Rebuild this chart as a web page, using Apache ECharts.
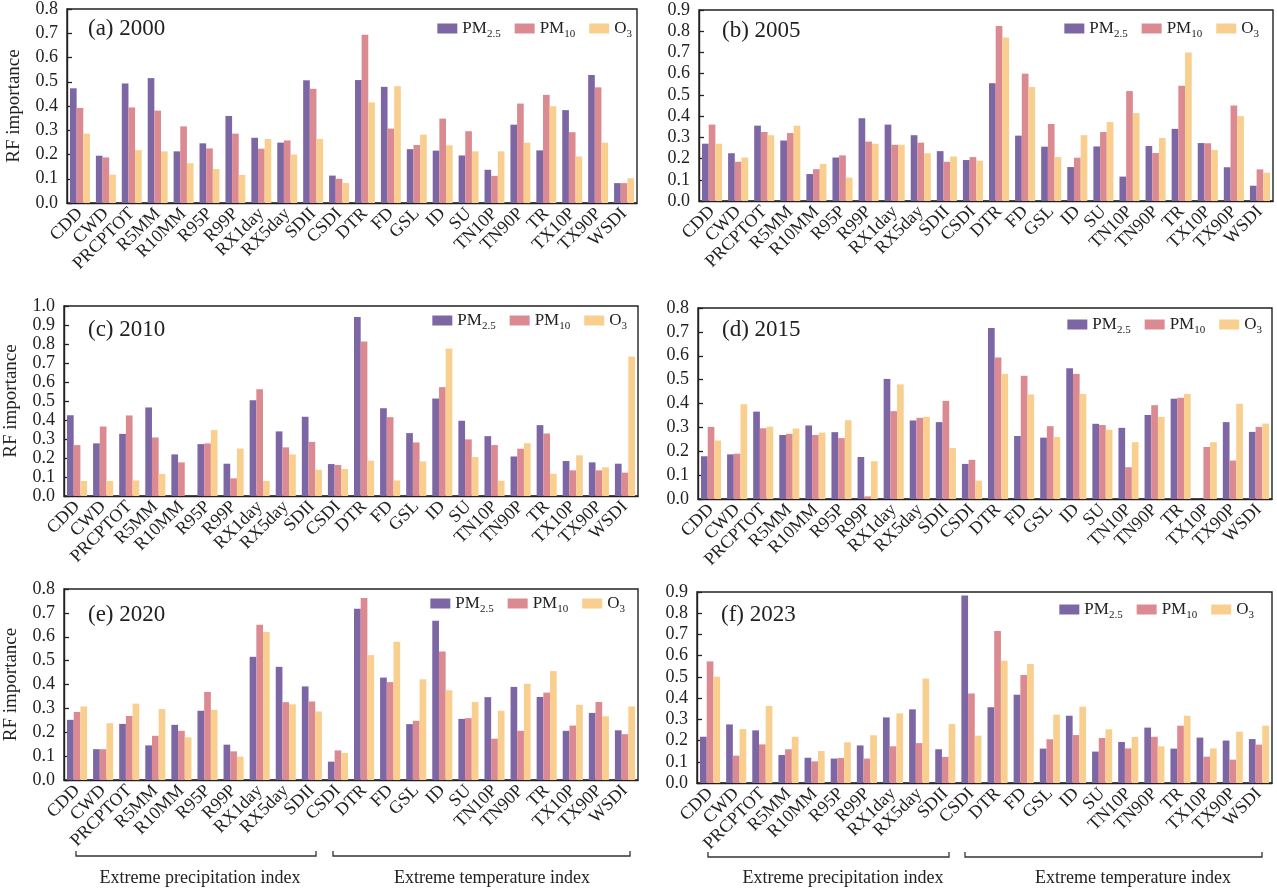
<!DOCTYPE html>
<html><head><meta charset="utf-8">
<script src="https://cdn.jsdelivr.net/npm/echarts@6/dist/echarts.min.js"></script>
<style>html,body{margin:0;padding:0;background:#fff}#c{width:1277px;height:890px}</style>
</head><body><div id="c"></div>
<script>
const categories = ['CDD','CWD','PRCPTOT','R5MM','R10MM','R95P','R99P','RX1day','RX5day','SDII','CSDI','DTR','FD','GSL','ID','SU','TN10P','TN90P','TR','TX10P','TX90P','WSDI'];
const seriesNames = ['PM2.5','PM10','O3'];
const yTickMax = [0.8, 0.9, 1.0, 0.8, 0.8, 0.9];
const panelTitles = ['(a) 2000','(b) 2005','(c) 2010','(d) 2015','(e) 2020','(f) 2023'];

const pm25_2000 = [0.473,0.195,0.493,0.515,0.213,0.246,0.359,0.269,0.249,0.506,0.113,0.507,0.479,0.222,0.216,0.196,0.137,0.323,0.217,0.383,0.528,0.082];
const pm10_2000 = [0.392,0.188,0.394,0.381,0.316,0.225,0.286,0.224,0.258,0.471,0.100,0.694,0.307,0.239,0.348,0.296,0.112,0.410,0.446,0.292,0.477,0.082];
const o3_2000   = [0.286,0.117,0.218,0.213,0.164,0.140,0.116,0.264,0.200,0.264,0.083,0.415,0.482,0.282,0.238,0.213,0.213,0.249,0.399,0.192,0.249,0.102];

const pm25_2005 = [0.270,0.225,0.355,0.285,0.127,0.205,0.390,0.360,0.310,0.235,0.193,0.555,0.308,0.256,0.160,0.257,0.115,0.259,0.340,0.273,0.159,0.072];
const pm10_2005 = [0.360,0.185,0.325,0.320,0.150,0.215,0.280,0.265,0.275,0.185,0.207,0.825,0.600,0.363,0.204,0.325,0.518,0.226,0.543,0.272,0.450,0.149];
const o3_2005   = [0.270,0.205,0.310,0.355,0.175,0.110,0.270,0.265,0.225,0.210,0.190,0.770,0.537,0.207,0.310,0.372,0.414,0.297,0.700,0.240,0.400,0.133];

const pm25_2010 = [0.425,0.277,0.327,0.466,0.219,0.273,0.170,0.504,0.340,0.417,0.168,0.942,0.462,0.331,0.513,0.396,0.315,0.208,0.373,0.184,0.177,0.170];
const pm10_2010 = [0.268,0.366,0.424,0.308,0.177,0.277,0.093,0.562,0.256,0.285,0.163,0.813,0.415,0.282,0.573,0.298,0.268,0.249,0.329,0.135,0.135,0.123];
const o3_2010   = [0.079,0.079,0.082,0.116,0.000,0.347,0.250,0.079,0.219,0.138,0.142,0.186,0.082,0.182,0.776,0.205,0.080,0.278,0.117,0.214,0.151,0.734];

const pm25_2015 = [0.179,0.187,0.366,0.268,0.308,0.280,0.176,0.503,0.329,0.322,0.147,0.716,0.264,0.257,0.548,0.315,0.298,0.352,0.420,0.000,0.322,0.281];
const pm10_2015 = [0.302,0.190,0.296,0.273,0.268,0.255,0.011,0.368,0.340,0.411,0.164,0.593,0.516,0.305,0.524,0.310,0.133,0.393,0.424,0.218,0.161,0.302];
const o3_2015   = [0.245,0.397,0.303,0.295,0.278,0.330,0.158,0.480,0.344,0.214,0.077,0.524,0.438,0.260,0.440,0.290,0.238,0.344,0.440,0.238,0.399,0.316];

const pm25_2020 = [0.252,0.129,0.235,0.145,0.231,0.290,0.148,0.516,0.474,0.392,0.077,0.717,0.429,0.234,0.667,0.256,0.347,0.390,0.348,0.206,0.281,0.208];
const pm10_2020 = [0.285,0.129,0.268,0.185,0.206,0.369,0.120,0.650,0.326,0.329,0.124,0.762,0.410,0.248,0.538,0.259,0.173,0.206,0.366,0.228,0.327,0.192];
const o3_2020   = [0.308,0.238,0.320,0.297,0.179,0.294,0.098,0.620,0.317,0.287,0.113,0.523,0.579,0.422,0.376,0.327,0.290,0.403,0.456,0.315,0.267,0.308];

const pm25_2023 = [0.218,0.276,0.248,0.132,0.119,0.115,0.177,0.309,0.347,0.159,0.884,0.357,0.416,0.162,0.317,0.148,0.193,0.261,0.162,0.214,0.200,0.207];
const pm10_2023 = [0.573,0.129,0.182,0.159,0.102,0.118,0.115,0.173,0.188,0.123,0.422,0.716,0.509,0.206,0.226,0.212,0.163,0.218,0.270,0.124,0.110,0.181];
const o3_2023   = [0.501,0.254,0.363,0.218,0.151,0.192,0.225,0.328,0.492,0.278,0.223,0.576,0.561,0.322,0.360,0.253,0.217,0.173,0.317,0.163,0.242,0.270];

const panelData = [
  [pm25_2000, pm10_2000, o3_2000],
  [pm25_2005, pm10_2005, o3_2005],
  [pm25_2010, pm10_2010, o3_2010],
  [pm25_2015, pm10_2015, o3_2015],
  [pm25_2020, pm10_2020, o3_2020],
  [pm25_2023, pm10_2023, o3_2023]
];

const FONT = "'Liberation Serif','Times New Roman',serif";
const TXT = '#222';
const colors = ['#7c66a4', '#dc8a92', '#f9cf90'];

const grids = [
  {left: 67, top: 8, width: 570, height: 195},
  {left: 699, top: 10, width: 574, height: 191},
  {left: 64, top: 306, width: 574, height: 190},
  {left: 698, top: 308, width: 574, height: 191},
  {left: 64, top: 589, width: 574, height: 191},
  {left: 697, top: 592, width: 575, height: 191}
];
const legendPos = [
  {right: 640, top: 15},
  {right: 13, top: 15},
  {right: 645, top: 307},
  {right: 10, top: 311},
  {right: 647, top: 590},
  {right: 18, top: 596}
];
const titlePos = [
  {left: 88, top: 17}, {left: 722, top: 19},
  {left: 88, top: 318}, {left: 722, top: 318},
  {left: 88, top: 603}, {left: 721, top: 603}
];

const option = {
  animation: false,
  backgroundColor: '#fff',
  textStyle: {fontFamily: FONT, color: TXT},
  title: panelTitles.map((t, i) => ({
    text: t, left: titlePos[i].left, top: titlePos[i].top, padding: 0,
    textStyle: {fontFamily: FONT, fontSize: 23, fontWeight: 'normal', color: TXT}
  })),
  legend: legendPos.map(p => ({
    data: seriesNames, right: p.right, top: p.top, orient: 'horizontal',
    itemWidth: 20, itemHeight: 10, itemGap: 14, selectedMode: false,
    icon: 'rect',
    formatter: n => n === 'PM2.5' ? '{m|PM}{s|2.5}' : (n === 'PM10' ? '{m|PM}{s|10}' : '{m|O}{s|3}'),
    textStyle: {
      fontFamily: FONT, color: TXT,
      rich: {
        m: {fontFamily: FONT, fontSize: 17, lineHeight: 22, color: TXT},
        s: {fontFamily: FONT, fontSize: 11, lineHeight: 13, verticalAlign: 'bottom', color: TXT}
      }
    }
  })),
  grid: grids.map(g => Object.assign({show: true, borderColor: '#222', borderWidth: 1.4, backgroundColor: 'transparent', containLabel: false}, g)),
  xAxis: grids.map((g, i) => ({
    type: 'category', gridIndex: i, data: categories,
    axisLine: {lineStyle: {color: '#222', width: 1.4}},
    axisTick: {inside: true, length: 6, interval: 0, lineStyle: {color: '#222', width: 1.3}},
    axisLabel: {rotate: 45, interval: 0, fontFamily: FONT, fontSize: 18, color: TXT, margin: 8},
    splitLine: {show: false}
  })),
  yAxis: grids.map((g, i) => ({
    type: 'value', gridIndex: i, min: 0, max: yTickMax[i], interval: 0.1,
    name: (i % 2 === 0) ? 'RF importance' : '',
    nameLocation: 'middle', nameGap: 43, nameRotate: 90,
    nameTextStyle: {fontFamily: FONT, fontSize: 19, color: TXT},
    axisLine: {show: true, lineStyle: {color: '#222', width: 1.4}},
    axisTick: {show: true, inside: true, length: 5, lineStyle: {color: '#222', width: 1.3}},
    axisLabel: {fontFamily: FONT, fontSize: 18, color: TXT, margin: 9, formatter: v => v.toFixed(1)},
    splitLine: {show: false}
  })),
  series: [],
  graphic: []
};

panelData.forEach((arrs, p) => {
  arrs.forEach((arr, k) => {
    option.series.push({
      name: seriesNames[k], type: 'bar', xAxisIndex: p, yAxisIndex: p,
      data: arr, barGap: '0%', barCategoryGap: '23%',
      itemStyle: {color: colors[k]}
    });
  });
});

function bracket(x1, x2, y, h) {
  return {type: 'polyline', silent: true,
    shape: {points: [[x1, y - h], [x1, y], [x2, y], [x2, y - h]]},
    style: {stroke: '#333', lineWidth: 1.3, fill: null}};
}
function label(text, cx, cy) {
  return {type: 'text', silent: true, x: cx, y: cy,
    style: {text: text, fontFamily: FONT, fontSize: 18, fill: TXT, align: 'center', verticalAlign: 'middle'}};
}
option.graphic = [
  bracket(76, 316, 856, 5), bracket(333, 630, 856, 5),
  bracket(708, 949, 857, 5), bracket(965, 1262, 857, 5),
  label('Extreme precipitation index', 200, 878),
  label('Extreme temperature index', 492, 878),
  label('Extreme precipitation index', 843, 878),
  label('Extreme temperature index', 1133, 878)
];

const chart = echarts.init(document.getElementById('c'), null, {renderer: 'canvas'});
chart.setOption(option);
</script>
</body></html>
